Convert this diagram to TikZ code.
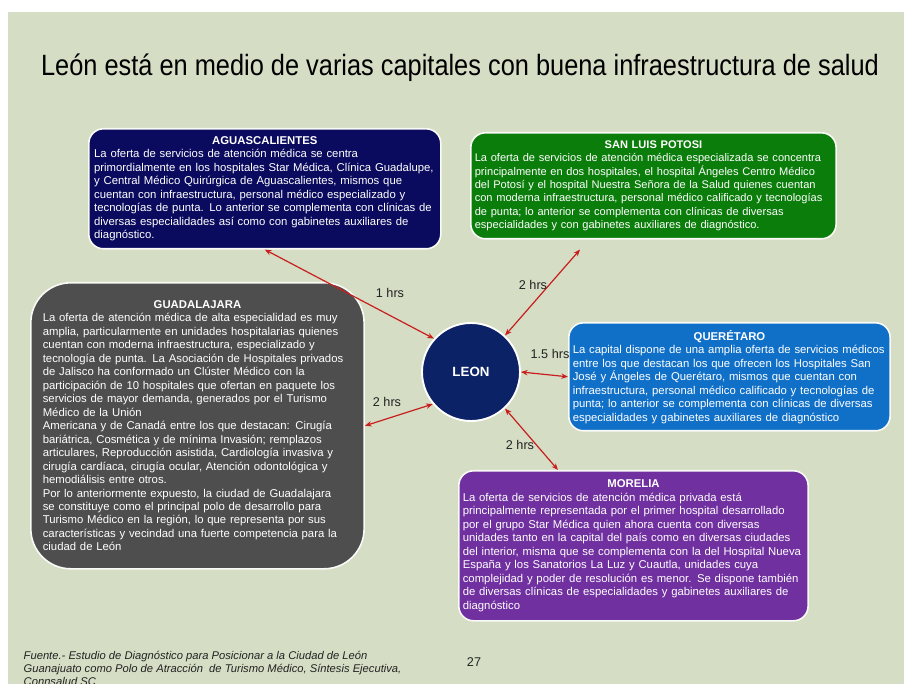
\documentclass[tikz,border=0pt]{standalone}
\usepackage{fontspec}
\setmainfont{Liberation Sans}
\usepackage{tikz}
\usetikzlibrary{arrows.meta}
\usetikzlibrary{positioning}
\usetikzlibrary{calc}
\usepackage{xcolor}
\definecolor{slidebg}{HTML}{D5DDC5}
\definecolor{aguanavy}{HTML}{0A0A5E}
\definecolor{slpgreen}{HTML}{0B7D0B}
\definecolor{guadgrey}{HTML}{4E4E4E}
\definecolor{querblue}{HTML}{1070C8}
\definecolor{morpurple}{HTML}{7030A0}
\definecolor{leonblue}{HTML}{0C2266}
\definecolor{linkred}{HTML}{C81E1E}
\definecolor{inkgrey}{HTML}{222222}
\newcommand{\cityhead}[1]{{\centering\bfseries #1\par}\raggedright}

\begin{document}
\begin{tikzpicture}[
        x=0.75pt, y=-0.75pt,
        citybox/.style={anchor=north west, draw=white!85!slidebg, line width=1.2pt,
          rounded corners=11pt, inner xsep=3pt, inner ysep=3pt, text=white,
          font=\fontsize{8.5}{10.1}\selectfont, align=left},
        hub/.style={circle, draw=white, line width=1.4pt, fill=leonblue,
          minimum size=73.5pt, inner sep=0pt, text=white,
          font=\fontsize{10}{12}\selectfont\bfseries},
        link/.style={{Stealth[length=5pt,width=4pt]}-{Stealth[length=5pt,width=4pt]},
          line width=0.9pt, draw=linkred},
        timelbl/.style={font=\fontsize{9.5}{11}\selectfont, text=inkgrey},
        srclbl/.style={font=\fontsize{8.4}{9.75}\selectfont\itshape, text=inkgrey,
          align=left, anchor=north west},
      ]

      % === slide background ===
      \useasboundingbox (0,0) rectangle (904,684);
      \fill[white] (0,0) rectangle (904,684);
      \fill[slidebg] (8,12) rectangle (904,684);

      \node[font=\fontsize{22}{26}\selectfont, text=black] (title) at (460,68)
        {\scalebox{0.865}[1]{León está en medio de varias capitales con buena infraestructura de salud}};

      % === cities ===
      \node[citybox, fill=aguanavy, inner xsep=4pt, text width=256pt, minimum height=90pt] (agua) at (88,128)
        {\cityhead{AGUASCALIENTES}
         La oferta de servicios de atención médica se centra\\
         primordialmente en los hospitales Star Médica, Clínica Guadalupe,\\
         y Central Médico Quirúrgica de Aguascalientes, mismos que\\
         cuentan con infraestructura, personal médico especializado y\\
         tecnologías de punta. Lo anterior se complementa con clínicas de\\
         diversas especialidades así como con gabinetes auxiliares de\\
         diagnóstico.};

      \node[citybox, fill=slpgreen, font=\fontsize{8.3}{10.1}\selectfont,
        text width=268pt, minimum height=79.5pt] (slp) at (470,132)
        {\cityhead{SAN LUIS POTOSI}
         La oferta de servicios de atención médica especializada se concentra\\
         principalmente en dos hospitales, el hospital Ángeles Centro Médico\\
         del Potosí y el hospital Nuestra Señora de la Salud quienes cuentan\\
         con moderna infraestructura, personal médico calificado y tecnologías\\
         de punta; lo anterior se complementa con clínicas de diversas\\
         especialidades y con gabinetes auxiliares de diagnóstico.};

      \node[citybox, fill=guadgrey, rounded corners=30pt, inner xsep=9pt,
        text width=232pt, minimum height=214.5pt] (guad) at (30,282)
        {\cityhead{GUADALAJARA}
         La oferta de atención médica de alta especialidad es muy\\
         amplia, particularmente en unidades hospitalarias quienes\\
         cuentan con moderna infraestructura, especializado y\\
         tecnología de punta. La Asociación de Hospitales privados\\
         de Jalisco ha conformado un Clúster Médico con la\\
         participación de 10 hospitales que ofertan en paquete los\\
         servicios de mayor demanda, generados por el Turismo\\
         Médico de la Unión\\
         Americana y de Canadá entre los que destacan: Cirugía\\
         bariátrica, Cosmética y de mínima Invasión; remplazos\\
         articulares, Reproducción asistida, Cardiología invasiva y\\
         cirugía cardíaca, cirugía ocular, Atención odontológica y\\
         hemodiálisis entre otros.\\
         Por lo anteriormente expuesto, la ciudad de Guadalajara\\
         se constituye como el principal polo de desarrollo para\\
         Turismo Médico en la región, lo que representa por sus\\
         características y vecindad una fuerte competencia para la\\
         ciudad de León};

      \node[citybox, fill=querblue, text width=235pt, minimum height=81pt] (quer) at (568,322)
        {\cityhead{QUERÉTARO}
         La capital dispone de una amplia oferta de servicios médicos\\
         entre los que destacan los que ofrecen los Hospitales San\\
         José y Ángeles de Querétaro, mismos que cuentan con\\
         infraestructura, personal médico calificado y tecnologías de\\
         punta; lo anterior se complementa con clínicas de diversas\\
         especialidades y gabinetes auxiliares de diagnóstico};

      \node[citybox, fill=morpurple, text width=256pt, minimum height=112.5pt] (mor) at (458,470)
        {\cityhead{MORELIA}
         La oferta de servicios de atención médica privada está\\
         principalmente representada por el primer hospital desarrollado\\
         por el grupo Star Médica quien ahora cuenta con diversas\\
         unidades tanto en la capital del país como en diversas ciudades\\
         del interior, misma que se complementa con la del Hospital Nueva\\
         España y los Sanatorios La Luz y Cuautla, unidades cuya\\
         complejidad y poder de resolución es menor. Se dispone también\\
         de diversas clínicas de especialidades y gabinetes auxiliares de\\
         diagnóstico};

      % === hub ===
      \node[hub] (leon) at (471,372) {LEON};

      % === travel times ===
      \coordinate (slpend) at ($(slp.south west)+(110,10)$);
      \coordinate (morend) at ($(mor.north west)+(100,0)$);

      \draw[link] (agua.south) -- (leon.138);
      \draw[link] (slpend) -- (leon.47);
      \draw[link] (quer.west) -- (leon.east);
      \draw[link] (guad.east) -- (leon.220);
      \draw[link] (morend) -- (leon.313);

      \node[timelbl] (t1) at (390,293) {1 hrs};
      \node[timelbl] (t2) at (533,285) {2 hrs};
      \node[timelbl] (t3) at (550,354) {1.5 hrs};
      \node[timelbl] (t4) at (387,402) {2 hrs};
      \node[timelbl] (t5) at (520,445) {2 hrs};

      % === source ===
      \node[srclbl] (src) at (19,647)
        {Fuente.- Estudio de Diagnóstico para Posicionar a la Ciudad de León\\
         Guanajuato como Polo de Atracción\ \ de Turismo Médico, Síntesis Ejecutiva,\\
         Connsalud SC};
      \node[font=\fontsize{9.5}{11}\selectfont, text=inkgrey] (pg) at (474,662) {27};

      \end{tikzpicture}
\end{document}
